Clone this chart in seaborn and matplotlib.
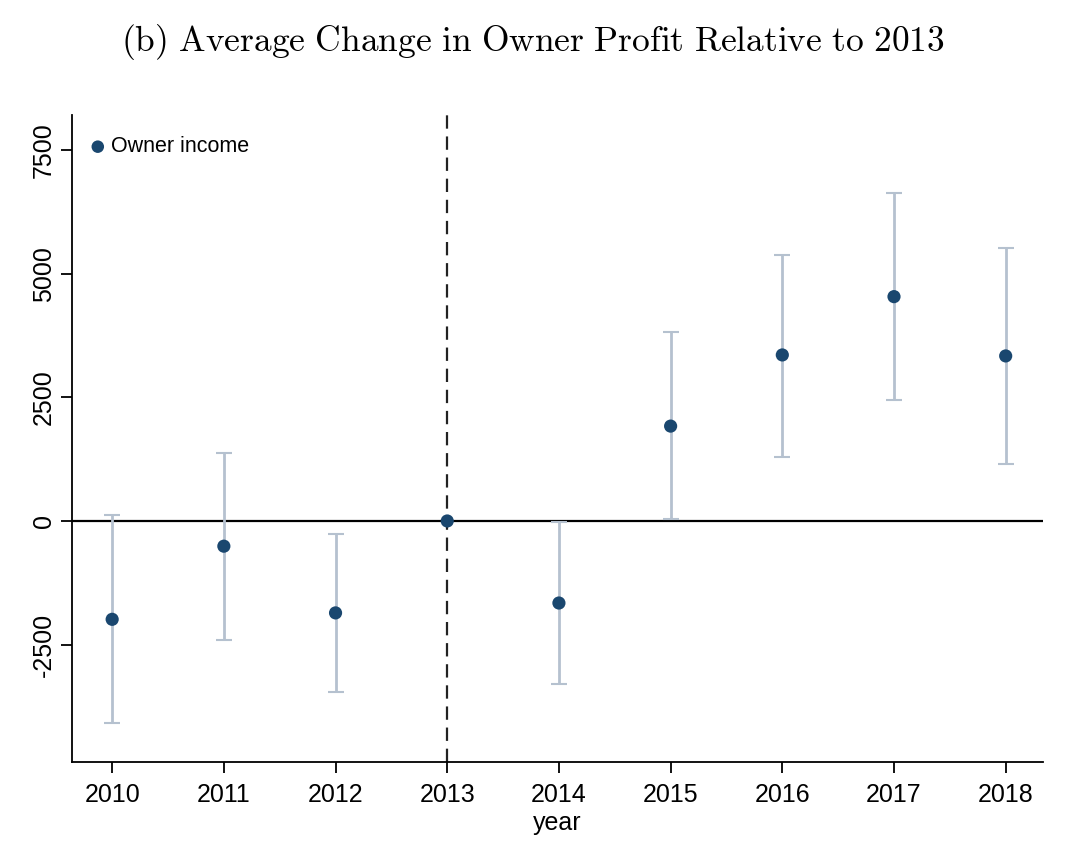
import pandas as pd
import seaborn as sns
import matplotlib.pyplot as plt
import numpy as np

# Event-study estimates
years = [2010, 2011, 2012, 2013, 2014, 2015, 2016, 2017, 2018]
coef = [-1990, -510, -1860, 0, -1660, 1920, 3360, 4540, 3340]
ci_low = [-4090, -2410, -3460, 0, -3300, 40, 1300, 2450, 1150]
ci_high = [120, 1380, -260, 0, -20, 3830, 5390, 6640, 5530]

yticks = [7500, 5000, 2500, 0, -2500]

df = pd.DataFrame({'year': years, 'coef': coef, 'lo': ci_low, 'hi': ci_high})

sns.set_style('ticks')
plt.rcParams['font.family'] = ['Liberation Sans', 'DejaVu Sans']
plt.rcParams['mathtext.fontset'] = 'cm'
plt.rcParams['text.color'] = 'black'
plt.rcParams['axes.labelcolor'] = 'black'

fig = plt.figure(figsize=(10.66, 8.44), dpi=100)
ax = fig.add_axes([0.0675, 0.097, 0.9105, 0.767])

# confidence intervals (2013 is the omitted base year)
ci = df[df['year'] != 2013]
ax.errorbar(ci['year'], ci['coef'], yerr=[ci['coef'] - ci['lo'], ci['hi'] - ci['coef']],
            fmt='none', ecolor='#b5c1cf', elinewidth=2, capsize=5.5, capthick=1.5, zorder=2)

ax.axhline(0, color='black', lw=1.6, zorder=1)
ax.axvline(2013, color='#222222', lw=1.6, ls=(0, (6, 3.5)), zorder=1)

sns.scatterplot(data=df, x='year', y='coef', ax=ax, color='#1a476f', s=90,
                edgecolor='none', label='Owner income', zorder=3)

ax.set_xlim(2009.64, 2018.33)
ax.set_ylim(-4880, 8220)
ax.set_xticks(years)
ax.set_yticks(yticks)
ax.set_yticklabels([str(t) for t in yticks], rotation=90, va='center')
ax.tick_params(axis='both', labelsize=18, length=8, width=1.3, colors='black')
ax.tick_params(axis='x', pad=7)
ax.set_xlabel('year', fontsize=18, labelpad=3)
ax.set_ylabel('')

for side in ['top', 'right']:
    ax.spines[side].set_visible(False)
for side in ['left', 'bottom']:
    ax.spines[side].set_linewidth(1.3)
    ax.spines[side].set_color('black')

leg = ax.legend(loc='upper left', bbox_to_anchor=(0.0, 0.99), frameon=False, fontsize=15.5,
                handletextpad=0.1, handlelength=1.0, borderaxespad=0.2, borderpad=0.5,
                markerscale=0.95)

fig.text(0.5, 0.95, r'$\mathrm{(b)\ Average\ Change\ in\ Owner\ Profit\ Relative\ to\ 2013}$',
         ha='center', va='center', fontsize=25.5)

fig.savefig('out.png', dpi=100)
